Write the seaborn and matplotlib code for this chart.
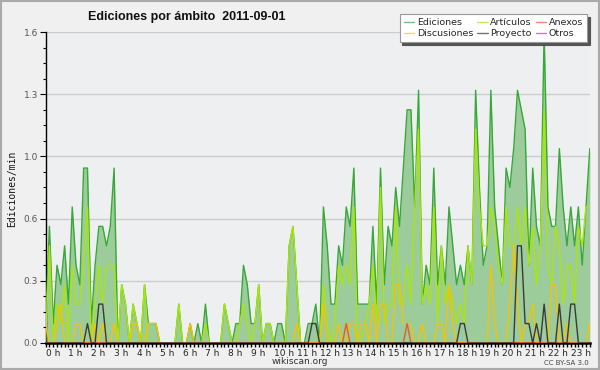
import numpy as np
import pandas as pd
import seaborn as sns
import matplotlib.pyplot as plt
import matplotlib.transforms as mtrans
from matplotlib.ticker import MultipleLocator, FuncFormatter
from matplotlib.patches import Rectangle

# edits per 10-minute bin, 2011-09-01 (144 bins, 00:00 -> 23:50)
ediciones = [1, 6, 1, 4, 3, 5, 2, 7, 4, 3,
             9, 9, 1, 4, 6, 6, 5, 6, 9, 0,
             3, 2, 0, 2, 1, 0, 3, 1, 1, 1,
             0, 0, 0, 0, 0, 2, 0, 0, 1, 0,
             1, 0, 2, 0, 0, 0, 0, 2, 1, 0,
             1, 1, 4, 3, 1, 1, 3, 0, 1, 1,
             0, 1, 1, 0, 5, 6, 3, 0, 0, 1,
             1, 2, 0, 7, 5, 2, 2, 5, 4, 7,
             6, 9, 2, 2, 2, 2, 6, 2, 9, 3,
             6, 5, 8, 6, 9, 12, 12, 7, 13, 2,
             4, 3, 9, 3, 5, 3, 7, 5, 3, 4,
             3, 5, 3, 13, 8, 4, 5, 13, 7, 5,
             3, 9, 8, 10, 13, 12, 11, 4, 9, 6,
             5, 16, 7, 6, 6, 10, 7, 5, 7, 5,
             7, 4, 7, 10]
articulos = [0, 5, 0, 2, 1, 3, 0, 4, 2, 2,
             4, 7, 0, 2, 4, 2, 4, 4, 4, 0,
             3, 2, 0, 2, 1, 0, 3, 0, 0, 0,
             0, 0, 0, 0, 0, 2, 0, 0, 0, 0,
             0, 0, 1, 0, 0, 0, 0, 2, 1, 0,
             0, 1, 2, 1, 0, 1, 3, 0, 1, 1,
             0, 0, 0, 0, 5, 6, 3, 0, 0, 0,
             0, 0, 0, 3, 1, 0, 1, 4, 3, 4,
             3, 7, 0, 0, 1, 2, 4, 1, 8, 1,
             2, 2, 7, 2, 2, 4, 2, 7, 11, 2,
             3, 2, 7, 1, 5, 2, 3, 2, 1, 2,
             1, 5, 3, 11, 7, 5, 5, 7, 6, 4,
             3, 7, 5, 5, 7, 5, 7, 4, 6, 3,
             5, 12, 4, 3, 6, 5, 2, 4, 4, 2,
             6, 5, 7, 7]
discusiones = [1, 0, 0, 1, 2, 0, 0, 0, 1, 1,
               0, 0, 0, 1, 0, 1, 0, 0, 1, 0,
               0, 0, 0, 1, 1, 0, 0, 1, 1, 1,
               0, 0, 0, 0, 0, 0, 0, 0, 1, 0,
               0, 0, 0, 0, 0, 0, 0, 0, 0, 0,
               0, 0, 0, 0, 0, 0, 0, 0, 0, 0,
               0, 0, 0, 0, 0, 0, 1, 0, 0, 0,
               0, 0, 0, 2, 0, 0, 0, 1, 0, 0,
               1, 1, 0, 1, 1, 0, 2, 0, 2, 2,
               0, 0, 3, 3, 1, 1, 1, 0, 0, 1,
               0, 0, 0, 1, 1, 0, 3, 1, 0, 0,
               0, 0, 0, 0, 0, 0, 0, 4, 1, 0,
               0, 0, 2, 5, 2, 0, 1, 1, 2, 0,
               0, 0, 0, 3, 3, 0, 0, 1, 0, 0,
               0, 0, 0, 1]
anexos = [0] * 144
anexos[79] = 1
anexos[95] = 1
proyecto = [0] * 144
for i, v in [(11, 1), (14, 2), (15, 2), (70, 1), (71, 1), (109, 1), (110, 1),
             (124, 5), (125, 5), (126, 1), (127, 1), (129, 1), (131, 2),
             (135, 2), (138, 2), (139, 2)]:
    proyecto[i] = v
otros = [0] * 144

BIN_MIN = 10
hour_labels = [f'{h} h' for h in range(24)]
y_ticks = [0.0, 0.32, 0.64, 0.96, 1.28, 1.6]

df = pd.DataFrame({
    'hora': np.arange(len(ediciones)) * BIN_MIN / 60,
    'Ediciones': np.array(ediciones) / BIN_MIN,
    'Artículos': np.array(articulos) / BIN_MIN,
    'Anexos': np.array(anexos) / BIN_MIN,
    'Discusiones': np.array(discusiones) / BIN_MIN,
    'Proyecto': np.array(proyecto) / BIN_MIN,
    'Otros': np.array(otros) / BIN_MIN,
})

colors = {
    'Ediciones': '#38a838',
    'Artículos': '#aae60a',
    'Anexos': '#ee5a22',
    'Discusiones': '#f5c400',
    'Proyecto': '#3a3a3a',
    'Otros': '#9a40ee',
}

sns.set_style('white')
plt.rcParams['font.family'] = ['DejaVu Sans']
bg = '#eeeff1'

fig = plt.figure(figsize=(6, 3.7), dpi=100, facecolor='#f0f0f0')
ax = fig.add_axes([0.076, 0.073, 0.907, 0.8405])
ax.set_facecolor(bg)

ax.fill_between(df['hora'], df['Ediciones'], color='#9ccb9c', lw=0, zorder=1)
order = ['Otros', 'Ediciones', 'Artículos', 'Discusiones', 'Anexos', 'Proyecto']
for z, name in enumerate(order):
    sns.lineplot(data=df, x='hora', y=name, color=colors[name], lw=1.0,
                 ax=ax, label=name, zorder=3 + z)

ax.set_xlim(0, df['hora'].iloc[-1])
ax.set_ylim(0, 1.6)
ax.set_xlabel('')
ax.set_ylabel('')

ax.set_yticks(y_ticks)
ax.yaxis.set_major_formatter(FuncFormatter(lambda v, p: f'{v:.1f}'))
ax.yaxis.set_minor_locator(MultipleLocator(0.08))
ax.grid(axis='y', color='#cccccc', lw=1, zorder=0)
ax.set_axisbelow(True)

ax.set_xticks(range(24))
ax.set_xticklabels(hour_labels)
ax.xaxis.set_minor_locator(MultipleLocator(1 / 6))
off = mtrans.ScaledTranslation(-3 / 72, 0, fig.dpi_scale_trans)
for lab in ax.get_xticklabels():
    lab.set_horizontalalignment('left')
    lab.set_transform(lab.get_transform() + off)

ax.tick_params(axis='x', which='both', direction='out', length=3, width=1,
               color='black', labelsize=6.5, pad=1.5, bottom=True)
ax.tick_params(axis='y', which='major', direction='out', length=4.5, width=0.8,
               color='black', labelsize=6.5, labelcolor='#555555', pad=1, left=True)
ax.tick_params(axis='y', which='minor', direction='out', length=2.2, width=0.8,
               color='black', left=True)

for s in ['top', 'right']:
    ax.spines[s].set_visible(False)
ax.spines['left'].set_color('black')
ax.spines['left'].set_linewidth(1)
ax.spines['bottom'].set_color('black')
ax.spines['bottom'].set_linewidth(1.8)

handles, labels = ax.get_legend_handles_labels()
ax.get_legend().remove()
hmap = dict(zip(labels, handles))
leg_order = ['Ediciones', 'Discusiones', 'Artículos', 'Proyecto', 'Anexos', 'Otros']
leg = fig.legend([hmap[n] for n in leg_order], leg_order, ncol=3,
                 loc='upper right', bbox_to_anchor=(0.987, 0.975),
                 prop={'size': 6.8}, frameon=True, fancybox=False,
                 shadow={'color': '#555555', 'alpha': 1},
                 handlelength=1.1, handletextpad=0.3, columnspacing=0.4,
                 labelspacing=0.2, borderpad=0.45)
leg.get_frame().set_edgecolor('#999999')
leg.get_frame().set_linewidth(0.8)
for ln in leg.get_lines():
    ln.set_alpha(0.7)

fig.text(0.312, 0.955, 'Ediciones por ámbito  2011-09-01', ha='center', va='center',
         fontsize=9, fontweight='bold', family=['Liberation Sans'], color='#111111')
fig.text(0.02, 0.49, 'Ediciones/min', rotation=90, ha='center', va='center',
         fontsize=7, family=['DejaVu Sans Mono'], color='#111111')
fig.text(0.5, 0.022, 'wikiscan.org', ha='center', va='center',
         fontsize=6.5, color='#333333')
fig.text(0.982, 0.02, 'CC BY-SA 3.0', ha='right', va='center',
         fontsize=5, color='#444444')

fig.patches.append(Rectangle((0.001, 0.002), 0.997, 0.995, transform=fig.transFigure,
                             fill=False, edgecolor='#aaaaaa', lw=1.5, zorder=10))

fig.savefig('out.png', dpi=100, facecolor=fig.get_facecolor())
